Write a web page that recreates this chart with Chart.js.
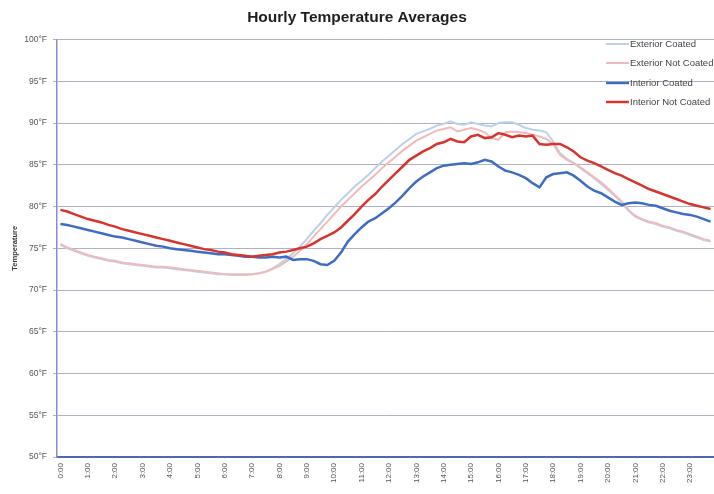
<!DOCTYPE html>
<html>
<head>
<meta charset="utf-8">
<script src="https://cdn.jsdelivr.net/npm/chart.js@4/dist/chart.umd.min.js"></script>
<style>
  html, body { margin: 0; padding: 0; background: #ffffff; overflow: hidden; }
  #wrap { width: 714px; height: 494px; position: relative; }
  canvas { display: block; }
</style>
</head>
<body>
<div id="wrap"><canvas id="temps" width="714" height="494"></canvas></div>
<script>
// Hour labels shown along the time axis
const hourLabels = ['0:00','1:00','2:00','3:00','4:00','5:00','6:00','7:00','8:00','9:00','10:00','11:00',
  '12:00','13:00','14:00','15:00','16:00','17:00','18:00','19:00','20:00','21:00','22:00','23:00'];

// Readings are averaged in 15-minute slots
const quarterTimes = [];
hourLabels.forEach(h => ['00','15','30','45'].forEach(m => quarterTimes.push(h.replace(':00', ':' + m))));

// Temperature ticks (°F)
const tempTicks = [50, 55, 60, 65, 70, 75, 80, 85, 90, 95, 100];

const seriesNames = ['Exterior Coated', 'Exterior Not Coated', 'Interior Coated', 'Interior Not Coated'];

const exteriorCoated = [
  75.4, 75.0, 74.7, 74.4, 74.1, 73.9, 73.7, 73.5, 73.4, 73.2, 73.1, 73.0,
  72.9, 72.8, 72.7, 72.7, 72.6, 72.5, 72.4, 72.3, 72.2, 72.1, 72.0, 71.9,
  71.9, 71.8, 71.8, 71.8, 71.9, 72.0, 72.2, 72.6, 73.1, 73.7, 74.4, 75.2,
  76.1, 77.1, 78.0, 79.0, 79.9, 80.8, 81.6, 82.4, 83.1, 83.8, 84.6, 85.4,
  86.1, 86.8, 87.5, 88.1, 88.7, 89.0, 89.3, 89.7, 89.9, 90.2, 89.9, 89.8,
  90.1, 89.9, 89.7, 89.6, 90.0, 90.1, 90.1, 89.8, 89.4, 89.2, 89.1, 88.9,
  87.8, 86.4, 85.7, 85.2, 84.6, 84.0, 83.4, 82.7, 82.0, 81.3, 80.5, 79.5,
  78.8, 78.4, 78.1, 77.9, 77.6, 77.4, 77.1, 76.9, 76.6, 76.3, 76.0, 75.8
];

const exteriorNotCoated = [
  75.5, 75.1, 74.8, 74.5, 74.2, 74.0, 73.8, 73.6, 73.5, 73.3, 73.2, 73.1,
  73.0, 72.9, 72.8, 72.8, 72.7, 72.6, 72.5, 72.4, 72.3, 72.2, 72.1, 72.0,
  71.9, 71.9, 71.9, 71.9, 71.9, 72.0, 72.2, 72.5, 72.9, 73.4, 74.0, 74.7,
  75.5, 76.4, 77.3, 78.2, 79.1, 80.0, 80.8, 81.6, 82.4, 83.1, 83.8, 84.6,
  85.3, 86.0, 86.7, 87.3, 87.9, 88.3, 88.7, 89.1, 89.3, 89.5, 89.0, 89.2,
  89.4, 89.2, 88.9, 88.2, 88.0, 88.9, 89.0, 88.9, 88.8, 88.6, 88.4, 88.1,
  87.5, 86.2, 85.6, 85.2, 84.7, 84.1, 83.5, 82.9, 82.2, 81.4, 80.6, 79.6,
  78.9, 78.5, 78.2, 78.0, 77.7, 77.5, 77.2, 77.0, 76.7, 76.4, 76.1, 75.9
];

const interiorCoated = [
  77.9, 77.8, 77.6, 77.4, 77.2, 77.0, 76.8, 76.6, 76.4, 76.3, 76.1, 75.9,
  75.7, 75.5, 75.3, 75.2, 75.0, 74.9, 74.8, 74.7, 74.6, 74.5, 74.4, 74.3,
  74.3, 74.2, 74.1, 74.0, 74.0, 73.9, 73.9, 74.0, 73.9, 74.0, 73.6, 73.7,
  73.7, 73.5, 73.1, 73.0, 73.5, 74.5, 75.8, 76.7, 77.5, 78.2, 78.6, 79.2,
  79.8, 80.5, 81.3, 82.2, 83.0, 83.6, 84.1, 84.6, 84.9, 85.0, 85.1, 85.2,
  85.1, 85.3, 85.6, 85.4, 84.8, 84.3, 84.1, 83.8, 83.4, 82.8, 82.3, 83.5,
  83.9, 84.0, 84.1, 83.7, 83.1, 82.4, 81.9, 81.6, 81.1, 80.6, 80.2, 80.4,
  80.5, 80.4, 80.2, 80.1, 79.8, 79.5, 79.3, 79.1, 79.0, 78.8, 78.5, 78.2
];

const interiorNotCoated = [
  79.6, 79.4, 79.1, 78.8, 78.5, 78.3, 78.1, 77.8, 77.6, 77.3, 77.1, 76.9,
  76.7, 76.5, 76.3, 76.1, 75.9, 75.7, 75.5, 75.3, 75.1, 74.9, 74.8, 74.6,
  74.5, 74.3, 74.2, 74.1, 74.0, 74.1, 74.2, 74.3, 74.5, 74.6, 74.8, 75.0,
  75.2, 75.6, 76.1, 76.5, 76.9, 77.5, 78.3, 79.1, 80.0, 80.8, 81.5, 82.4,
  83.2, 84.0, 84.8, 85.6, 86.1, 86.6, 87.0, 87.5, 87.7, 88.1, 87.8, 87.7,
  88.4, 88.6, 88.2, 88.3, 88.8, 88.6, 88.3, 88.5, 88.4, 88.5, 87.5, 87.4,
  87.5, 87.5, 87.1, 86.6, 85.9, 85.5, 85.2, 84.8, 84.4, 84.0, 83.7, 83.3,
  82.9, 82.5, 82.1, 81.8, 81.5, 81.2, 80.9, 80.6, 80.3, 80.1, 79.9, 79.7
];

const FONT = '"Liberation Sans", Arial, sans-serif';

// Key drawn inside the plot's top-right corner, over the grid
const cornerKey = {
  id: 'cornerKey',
  afterDatasetsDraw(chart, args, opts) {
    const ctx = chart.ctx;
    ctx.save();
    ctx.font = opts.fontSize + 'px ' + FONT;
    ctx.textBaseline = 'middle';
    ctx.textAlign = 'left';
    chart.data.datasets.forEach((ds, i) => {
      const y = opts.rows[i];
      ctx.strokeStyle = ds.borderColor;
      ctx.lineWidth = ds.borderWidth;
      ctx.beginPath();
      ctx.moveTo(opts.lineStart, y);
      ctx.lineTo(opts.lineEnd, y);
      ctx.stroke();
      ctx.fillStyle = '#444444';
      ctx.fillText(ds.label, opts.textX, y);
    });
    ctx.restore();
  }
};

function line(label, data, color, width, order) {
  return {
    label, data,
    borderColor: color,
    backgroundColor: color,
    borderWidth: width,
    pointRadius: 0,
    tension: 0,
    fill: false,
    order
  };
}

new Chart(document.getElementById('temps'), {
  type: 'line',
  data: {
    labels: quarterTimes,
    datasets: [
      line(seriesNames[0], exteriorCoated, '#bcd0ea', 2, 4),
      line(seriesNames[1], exteriorNotCoated, '#f1baba', 2, 3),
      line(seriesNames[2], interiorCoated, '#3d6dc3', 2.5, 2),
      line(seriesNames[3], interiorNotCoated, '#d6342c', 2.5, 1)
    ]
  },
  options: {
    responsive: false,
    animation: false,
    devicePixelRatio: 1,
    layout: { padding: { left: 0, right: 0, top: 0, bottom: 0 } },
    plugins: {
      legend: { display: false },
      tooltip: { enabled: false },
      title: {
        display: true,
        text: 'Hourly Temperature Averages',
        color: '#1e1e1e',
        font: { family: FONT, size: 15.5, weight: 'bold' },
        padding: { top: 8, bottom: 13 }
      },
      cornerKey: {
        rows: [44, 63, 83, 102],
        lineStart: 606,
        lineEnd: 629,
        textX: 630,
        fontSize: 9.5
      }
    },
    scales: {
      x: {
        type: 'category',
        offset: true,
        grid: { display: true, drawOnChartArea: false, drawTicks: false, color: 'rgba(0,0,0,0)' },
        border: { display: true, color: '#4a68b4', width: 2 },
        ticks: {
          autoSkip: false,
          minRotation: 90,
          maxRotation: 90,
          padding: 6,
          color: '#555555',
          font: { family: FONT, size: 8 },
          callback(value, index) {
            const t = quarterTimes[index];
            return hourLabels.includes(t) ? t : '';
          }
        },
        afterFit(scale) {
          scale.height = 37;
          scale.paddingRight = 0;
          scale.paddingLeft = 0;
        }
      },
      y: {
        min: tempTicks[0],
        max: tempTicks[tempTicks.length - 1],
        afterBuildTicks(scale) { scale.ticks = tempTicks.map(v => ({ value: v })); },
        grid: { color: '#b0b2c4', lineWidth: 1, tickLength: 4, drawTicks: true },
        border: { display: true, color: '#8a8ad0', width: 1.5 },
        ticks: {
          autoSkip: false,
          padding: 6,
          color: '#555555',
          font: { family: FONT, size: 8.5 },
          callback(value) { return value + '°F'; }
        },
        title: {
          display: true,
          text: 'Temperature',
          color: '#333333',
          font: { family: FONT, size: 7.5, weight: 'bold' },
          padding: { top: 10, bottom: 0 }
        },
        afterFit(scale) { scale.width = 57; }
      }
    }
  },
  plugins: [cornerKey]
});
</script>
</body>
</html>
